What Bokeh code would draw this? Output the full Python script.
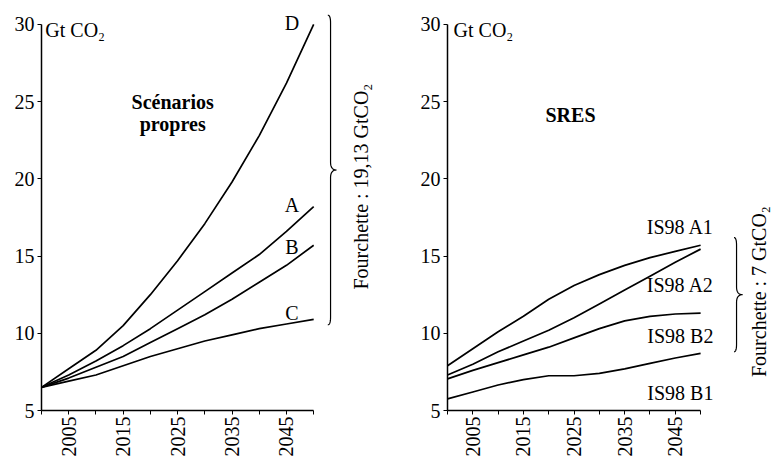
import math
import numpy as np
from bokeh.plotting import figure
from bokeh.models import Range1d, FixedTicker
from bokeh.layouts import row
from bokeh.embed import file_html
from bokeh.resources import INLINE
from bokeh.core.properties import value

# ---------------- data ----------------
years = [2000, 2005, 2010, 2015, 2020, 2025, 2030, 2035, 2040, 2045, 2050]

clean_A = [6.5, 7.3, 8.2, 9.2, 10.3, 11.5, 12.7, 13.9, 15.1, 16.6, 18.2]
clean_B = [6.5, 7.1, 7.8, 8.5, 9.4, 10.3, 11.2, 12.2, 13.3, 14.4, 15.7]
clean_C = [6.5, 6.9, 7.3, 7.9, 8.5, 9.0, 9.5, 9.9, 10.3, 10.6, 10.9]
clean_D = [6.5, 7.7, 8.9, 10.5, 12.5, 14.7, 17.1, 19.8, 22.8, 26.2, 30.0]
clean_names = ["A", "B", "C", "D"]

sres_A1 = [7.9, 9.0, 10.1, 11.1, 12.2, 13.1, 13.8, 14.4, 14.9, 15.3, 15.7]
sres_A2 = [7.3, 8.0, 8.8, 9.5, 10.2, 11.0, 11.9, 12.8, 13.7, 14.6, 15.45]
sres_B2 = [7.05, 7.6, 8.1, 8.6, 9.1, 9.7, 10.3, 10.8, 11.1, 11.25, 11.3]
sres_B1 = [5.75, 6.2, 6.65, 7.0, 7.25, 7.25, 7.4, 7.7, 8.05, 8.4, 8.7]
sres_names = ["IS98 A1", "IS98 A2", "IS98 B2", "IS98 B1"]

y_ticks = [5, 10, 15, 20, 25, 30]
x_ticks = [2000, 2005, 2010, 2015, 2020, 2025, 2030, 2035, 2040, 2045, 2050]
x_tick_labels = ["", "2005", "", "2015", "", "2025", "", "2035", "", "2045", ""]

unit_label = "Gt CO\u2082"
left_title = ["Scénarios", "propres"]
right_title = "SRES"
left_range_text = "Fourchette : 19,13 GtCO\u2082"
right_range_text = "Fourchette : 7 GtCO\u2082"

# ---------------- style ----------------
FAMILY = "Liberation Serif"
FONT = value(FAMILY)
FS = "20px"


def make_fig(width, border_left, x_end):
    p = figure(width=width, height=459,
               x_range=Range1d(2000, x_end), y_range=Range1d(5, 31.55),
               output_backend="svg", toolbar_location=None,
               min_border_left=border_left, min_border_right=0,
               min_border_top=0, min_border_bottom=48)
    p.outline_line_color = None
    p.grid.visible = False
    p.background_fill_color = "white"
    p.border_fill_color = "white"

    xa = p.xaxis[0]
    xa.bounds = (2000, 2050)
    xa.ticker = FixedTicker(ticks=x_ticks)
    xa.major_label_overrides = {t: l for t, l in zip(x_ticks, x_tick_labels)}
    xa.major_label_orientation = math.pi / 2
    xa.minor_tick_line_color = None
    xa.major_tick_in = 0
    xa.major_tick_out = 4
    xa.major_label_standoff = 2
    xa.axis_line_width = 1.5
    xa.major_tick_line_width = 1
    xa.major_label_text_font = FAMILY
    xa.major_label_text_font_size = FS
    xa.major_label_text_color = "black"

    ya = p.yaxis[0]
    ya.bounds = (5, 30)
    ya.ticker = FixedTicker(ticks=y_ticks)
    ya.minor_tick_line_color = None
    ya.major_tick_in = 0
    ya.major_tick_out = 4
    ya.major_label_standoff = 3
    ya.axis_line_width = 1.5
    ya.major_tick_line_width = 1
    ya.major_label_text_font = FAMILY
    ya.major_label_text_font_size = FS
    ya.major_label_text_color = "black"
    return p


def brace(p, x0, lo, hi, tip_w, end_w, r):
    mid = (lo + hi) / 2.0

    def qb(p0, c, p1, n=12):
        t = np.linspace(0, 1, n)
        xs = (1 - t) ** 2 * p0[0] + 2 * (1 - t) * t * c[0] + t ** 2 * p1[0]
        ys = (1 - t) ** 2 * p0[1] + 2 * (1 - t) * t * c[1] + t ** 2 * p1[1]
        return list(xs), list(ys)

    xs, ys = [], []
    for seg in [qb((x0 - end_w, hi), (x0, hi), (x0, hi - r)),
                qb((x0, mid + r), (x0, mid), (x0 + tip_w, mid)),
                qb((x0 + tip_w, mid), (x0, mid), (x0, mid - r)),
                qb((x0, lo + r), (x0, lo), (x0 - end_w, lo))]:
        xs += seg[0]
        ys += seg[1]
    p.line(xs, ys, line_color="black", line_width=1.2)


# ---------------- left panel ----------------
p1 = make_fig(403, 41, 2066.5)
clean_series = [clean_A, clean_B, clean_C, clean_D]
for s in clean_series:
    p1.line(years, s, line_color="black", line_width=1.7)

label_dy_left = [0.1, -0.1, 0.4, 0.1]
p1.text(x=[years[-1] - 4] * 4,
        y=[s[-1] + d for s, d in zip(clean_series, label_dy_left)],
        text=clean_names, text_font=FONT, text_font_size=FS,
        text_align="center", text_baseline="middle", text_color="black")

p1.text(x=[2000.7], y=[29.65], text=[unit_label], text_font=FONT,
        text_font_size=FS, text_align="left", text_baseline="middle")
p1.text(x=[2024.1, 2024.1], y=[24.95, 23.55], text=left_title, text_font=FONT,
        text_font_size=FS, text_font_style="bold", text_align="center",
        text_baseline="middle")

ends_l = [s[-1] for s in clean_series]
brace(p1, 2053.1, min(ends_l) - 0.35, max(ends_l) + 0.6, 1.1, 0.5, 0.5)
p1.text(x=[2058.7], y=[19.5], text=[left_range_text], angle=math.pi / 2,
        text_font=FONT, text_font_size=FS, text_align="center",
        text_baseline="middle")

# ---------------- right panel ----------------
p2 = make_fig(370, 44, 2064.4)
sres_series = [sres_A1, sres_A2, sres_B2, sres_B1]
for s in sres_series:
    p2.line(years, s, line_color="black", line_width=1.7)

label_dy_right = [1.2, -2.35, -1.45, -2.55]
p2.text(x=[years[-1] - 4] * 4,
        y=[s[-1] + d for s, d in zip(sres_series, label_dy_right)],
        text=sres_names, text_font=FONT, text_font_size=FS,
        text_align="center", text_baseline="middle", text_color="black")

p2.text(x=[2001.2], y=[29.65], text=[unit_label], text_font=FONT,
        text_font_size=FS, text_align="left", text_baseline="middle")
p2.text(x=[2024.3], y=[24.15], text=[right_title], text_font=FONT,
        text_font_size=FS, text_font_style="bold", text_align="center",
        text_baseline="middle")

ends_r = [s[-1] for s in sres_series]
brace(p2, 2057.1, min(ends_r) + 0.1, max(ends_r) + 0.5, 1.2, 0.5, 0.5)
p2.text(x=[2061.6], y=[12.7], text=[right_range_text], angle=math.pi / 2,
        text_font=FONT, text_font_size=FS, text_align="center",
        text_baseline="middle")

layout = row(p1, p2, spacing=0)
open("out.html", "w").write(file_html(layout, INLINE))
